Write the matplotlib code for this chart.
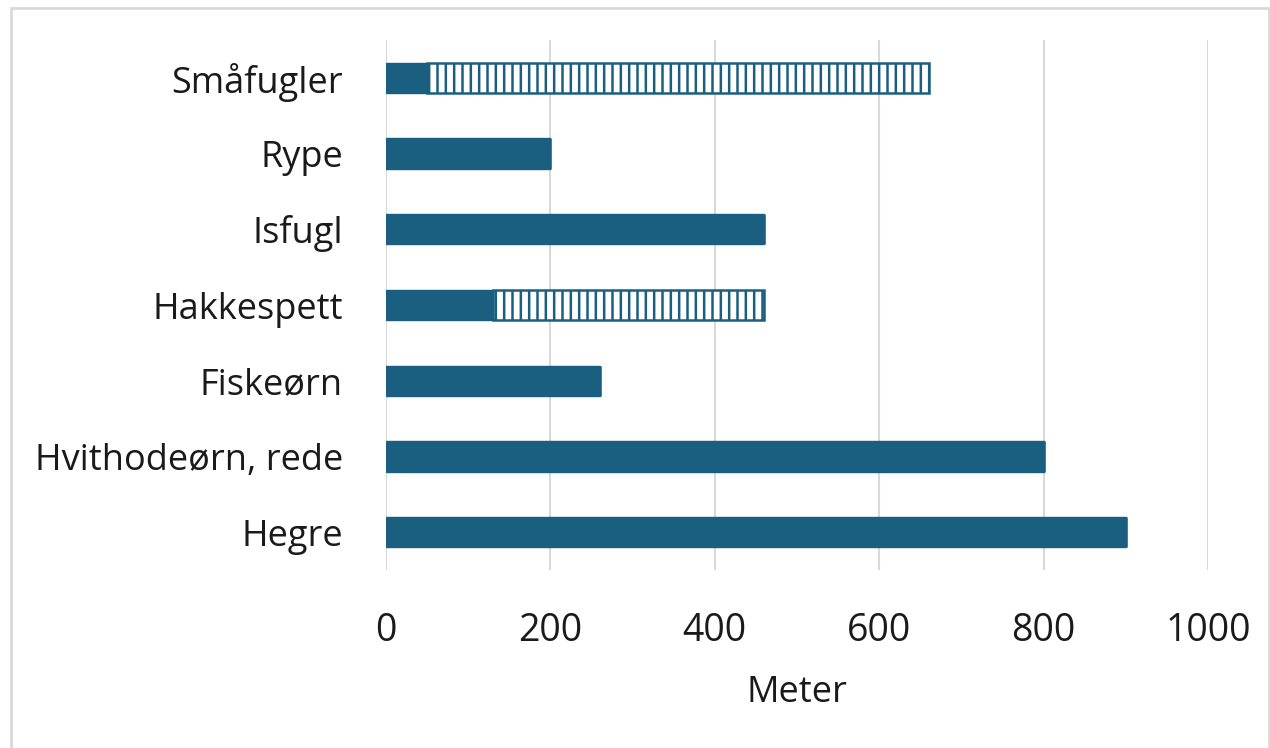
import matplotlib
matplotlib.use("Agg")
import matplotlib.pyplot as plt
from matplotlib.patches import Rectangle

categories = ["Hegre", "Hvithodeørn, rede", "Fiskeørn", "Hakkespett", "Isfugl", "Rype", "Småfugler"]
solid_values = [900, 800, 260, 130, 460, 200, 50]
hatched_values = [0, 0, 0, 330, 0, 0, 610]
xticks = [0, 200, 400, 600, 800, 1000]

color = "#1a5e80"
plt.rcParams['font.family'] = ['Open Sans', 'DejaVu Sans']
plt.rcParams['hatch.linewidth'] = 1.8
plt.rcParams['hatch.color'] = color

W, H = 1270, 748
fig = plt.figure(figsize=(W / 100, H / 100), dpi=100)
ax = fig.add_axes([386 / W, 1 - 570 / H, (1208 - 386) / W, (570 - 40) / H])

y = list(range(len(categories)))
ax.barh(y, solid_values, height=0.4, color=color, edgecolor=color, linewidth=1.0, zorder=3)
ax.barh(y, hatched_values, left=solid_values, height=0.4, color="white",
        edgecolor=color, hatch="||", linewidth=1.8, zorder=3)

ax.set_xlim(0, 1000)
ax.set_ylim(-0.5, len(categories) - 0.5)
ax.set_xticks(xticks)
ax.set_xticklabels([str(v) for v in xticks], fontsize=27)
ax.set_yticks(y)
ax.set_yticklabels(categories, fontsize=26)
ax.tick_params(axis='both', length=0, colors="#1a1a1a")
ax.tick_params(axis='x', pad=30)
ax.tick_params(axis='y', pad=31)
ax.xaxis.grid(True, color="#d9d9d9", linewidth=1.5, zorder=0)
ax.set_axisbelow(True)
for s in ax.spines.values():
    s.set_visible(False)
ax.set_xlabel("Meter", fontsize=26, labelpad=18, color="#1a1a1a")

fig.patches.append(Rectangle((11 / W, -0.05), 1 - 12 / W, 1.05 - 8 / H, transform=fig.transFigure,
                             fill=False, edgecolor="#d9d9d9", linewidth=2))

fig.savefig("out.png", dpi=100)
